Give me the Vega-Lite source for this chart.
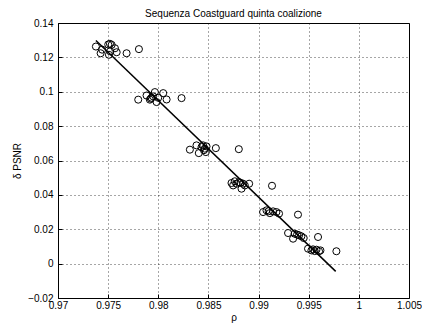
{
  "$schema": "https://vega.github.io/schema/vega-lite/v6.json",
  "width": 351,
  "height": 275,
  "autosize": {"type": "none"},
  "padding": {"left": 58, "top": 23, "right": 13, "bottom": 30},
  "background": "white",
  "config": {
    "font": "Liberation Sans",
    "view": {"stroke": "black", "strokeWidth": 1},
    "axis": {
      "domain": false,
      "labelFont": "Liberation Sans",
      "labelFontSize": 10,
      "labelColor": "black",
      "labelOverlap": false,
      "labelFlush": false,
      "labelBound": false,
      "titleFont": "Liberation Sans",
      "titleFontSize": 10,
      "titleFontWeight": "normal",
      "titleColor": "black",
      "tickColor": "black",
      "tickSize": -4,
      "gridColor": "black",
      "gridDash": [1, 3],
      "gridOpacity": 0.7,
      "gridWidth": 1
    }
  },
  "title": {
    "text": "Sequenza Coastguard quinta coalizione",
    "fontSize": 10,
    "fontWeight": "normal",
    "font": "Liberation Sans",
    "color": "black",
    "offset": 1,
    "dy": 2
  },
  "datasets": {
    "pts": [
      {"rho": 0.97378, "d": 0.1263}, {"rho": 0.97425, "d": 0.1224}, {"rho": 0.97440, "d": 0.1245},
      {"rho": 0.97501, "d": 0.1275}, {"rho": 0.97518, "d": 0.1279}, {"rho": 0.97535, "d": 0.1273},
      {"rho": 0.97508, "d": 0.1215}, {"rho": 0.97520, "d": 0.1235}, {"rho": 0.97568, "d": 0.1253},
      {"rho": 0.97585, "d": 0.1230}, {"rho": 0.97684, "d": 0.1224}, {"rho": 0.97807, "d": 0.1248},
      {"rho": 0.97800, "d": 0.0954}, {"rho": 0.97883, "d": 0.0978}, {"rho": 0.97916, "d": 0.0954},
      {"rho": 0.97933, "d": 0.0965}, {"rho": 0.97949, "d": 0.0973}, {"rho": 0.97966, "d": 0.0998},
      {"rho": 0.97983, "d": 0.0940}, {"rho": 0.97999, "d": 0.0965}, {"rho": 0.98049, "d": 0.0992},
      {"rho": 0.98083, "d": 0.0955}, {"rho": 0.98232, "d": 0.0963}, {"rho": 0.97925, "d": 0.0960},
      {"rho": 0.98315, "d": 0.0663}, {"rho": 0.98381, "d": 0.0688}, {"rho": 0.98404, "d": 0.0643},
      {"rho": 0.98431, "d": 0.0678}, {"rho": 0.98447, "d": 0.0688}, {"rho": 0.98464, "d": 0.0669},
      {"rho": 0.98481, "d": 0.0682}, {"rho": 0.98474, "d": 0.0649}, {"rho": 0.98574, "d": 0.0672},
      {"rho": 0.98803, "d": 0.0666}, {"rho": 0.98455, "d": 0.0660},
      {"rho": 0.98730, "d": 0.0469}, {"rho": 0.98763, "d": 0.0479}, {"rho": 0.98780, "d": 0.0465},
      {"rho": 0.98806, "d": 0.0474}, {"rho": 0.98830, "d": 0.0436}, {"rho": 0.98846, "d": 0.0465},
      {"rho": 0.98863, "d": 0.0455}, {"rho": 0.98906, "d": 0.0465}, {"rho": 0.98746, "d": 0.0455},
      {"rho": 0.99134, "d": 0.0453}, {"rho": 0.98820, "d": 0.0470},
      {"rho": 0.99045, "d": 0.0300}, {"rho": 0.99079, "d": 0.0310}, {"rho": 0.99112, "d": 0.0294},
      {"rho": 0.99145, "d": 0.0304}, {"rho": 0.99178, "d": 0.0300}, {"rho": 0.99204, "d": 0.0291},
      {"rho": 0.99393, "d": 0.0285}, {"rho": 0.99100, "d": 0.0305},
      {"rho": 0.99294, "d": 0.0178}, {"rho": 0.99344, "d": 0.0145}, {"rho": 0.99360, "d": 0.0174},
      {"rho": 0.99384, "d": 0.0169}, {"rho": 0.99404, "d": 0.0165}, {"rho": 0.99427, "d": 0.0159},
      {"rho": 0.99450, "d": 0.0149}, {"rho": 0.99593, "d": 0.0155},
      {"rho": 0.99493, "d": 0.0087}, {"rho": 0.99527, "d": 0.0077}, {"rho": 0.99543, "d": 0.0083},
      {"rho": 0.99560, "d": 0.0073}, {"rho": 0.99577, "d": 0.0081}, {"rho": 0.99603, "d": 0.0072},
      {"rho": 0.99617, "d": 0.0077}, {"rho": 0.99776, "d": 0.0072}
    ],
    "fit": [
      {"rho": 0.97378, "d": 0.1298},
      {"rho": 0.99769, "d": -0.0045}
    ]
  },
  "layer": [
    {
      "data": {"name": "pts"},
      "mark": {"type": "point", "shape": "circle", "filled": false, "stroke": "black", "strokeWidth": 1, "size": 50, "opacity": 1},
      "encoding": {
        "x": {
          "field": "rho", "type": "quantitative",
          "scale": {"domain": [0.97, 1.005], "nice": false, "zero": false},
          "axis": {"title": "ρ", "values": [0.97, 0.975, 0.98, 0.985, 0.99, 0.995, 1, 1.005], "tickCount": 8, "labelExpr": "format(datum.value, '.3~f')", "grid": true, "titlePadding": 2, "labelPadding": 6, "labelOverlap": false}
        },
        "y": {
          "field": "d", "type": "quantitative",
          "scale": {"domain": [-0.02, 0.14], "nice": false, "zero": false},
          "axis": {"title": "δ PSNR", "values": [-0.02, 0, 0.02, 0.04, 0.06, 0.08, 0.1, 0.12, 0.14], "tickCount": 9, "labelExpr": "format(datum.value, '.2~f')", "grid": true, "titlePadding": 5, "labelPadding": 9, "labelOverlap": false}
        }
      }
    },
    {
      "data": {"name": "fit"},
      "mark": {"type": "line", "stroke": "black", "strokeWidth": 1.5},
      "encoding": {
        "x": {"field": "rho", "type": "quantitative"},
        "y": {"field": "d", "type": "quantitative"}
      }
    }
  ]
}
